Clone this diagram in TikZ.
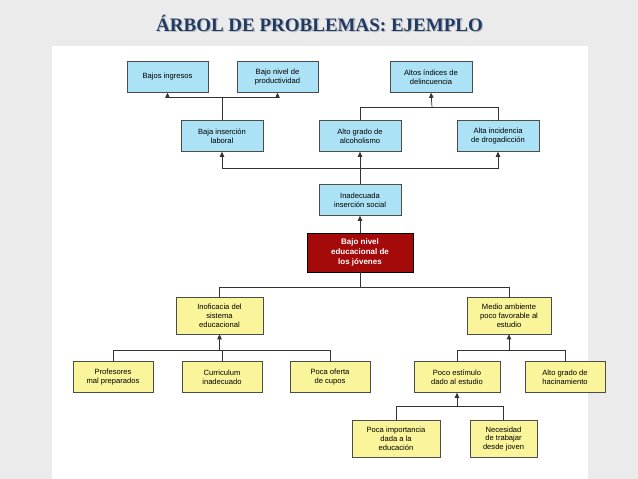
\documentclass[tikz,border=0pt]{standalone}
\usepackage{fontspec}
\setmainfont{Liberation Serif}
\newfontfamily\arial{Liberation Sans}
\usetikzlibrary{arrows.meta}
\definecolor{bl}{HTML}{ABE2F5}
\definecolor{yl}{HTML}{FAF59A}
\definecolor{rd}{HTML}{A50A0A}
\definecolor{tt}{HTML}{1F3A64}
\tikzset{
 bx/.style={draw=black!70,line width=0.6pt,font=\arial\fontsize{7.6}{9}\selectfont,align=center,inner sep=0pt,
   minimum height=#1},
 bx/.default=31,
 blue/.style={bx,fill=bl},
 yel/.style={bx=37,fill=yl,font=\arial\fontsize{7.6}{8.8}\selectfont},
 yel2/.style={bx=31,fill=yl},
 red/.style={bx=39,fill=rd,text=white,font=\arial\bfseries\fontsize{8}{9.6}\selectfont,draw=black,line width=0.8pt},
 ln/.style={line width=0.7pt,black!80},
 ar/.style={ln,-{Triangle[length=5pt,width=4.5pt]}},
}
\begin{document}
\begin{tikzpicture}[x=1pt,y=-1pt]
\useasboundingbox (0,0) rectangle (638,479);
\fill[black!8] (0,0) rectangle (638,479);
\fill[white] (52,46) rectangle (588,479);
\node[font=\bfseries\fontsize{19}{22}\selectfont,text=black!25] at (320.8,24.8) {ÁRBOL DE PROBLEMAS: EJEMPLO};
\node[font=\bfseries\fontsize{19}{22}\selectfont,text=tt] (title) at (319.5,23.5) {ÁRBOL DE PROBLEMAS: EJEMPLO};
% nodes
\node[blue,minimum width=81] (bi) at (167.5,77) {Bajos ingresos};
\node[blue,minimum width=81] (bp) at (277.5,77) {Bajo nivel de\\productividad};
\node[blue,minimum width=82] (ai) at (431,77) {Altos índices de\\delincuencia};
\node[blue,minimum width=82] (bl) at (222,136) {Baja inserción\\laboral};
\node[blue,minimum width=82] (ag) at (360,136) {Alto grado de\\alcoholismo};
\node[blue,minimum width=82] (ad) at (498,136) {Alta incidencia\\de drogadicción};
\node[blue,minimum width=82] (is) at (360,200) {Inadecuada\\inserción social};
\node[red,minimum width=106] (bn) at (360,252.5) {Bajo nivel\\educacional de\\los jóvenes};
\node[yel,minimum width=87] (ie) at (219.5,315.5) {Inoficacia del\\sistema\\educacional};
\node[yel,minimum width=84] (ma) at (509,315.5) {Medio ambiente\\poco favorable al\\estudio};
\node[yel2,minimum width=80] (pm) at (113,377) {Profesores\\mal preparados};
\node[yel2,minimum width=80] (ci) at (222,377) {Curriculum\\inadecuado};
\node[yel2,minimum width=80] (po) at (330,377) {Poca oferta\\de cupos};
\node[yel2,minimum width=86] (pe) at (457,377) {Poco estímulo\\dado al estudio};
\node[yel2,minimum width=80] (ah) at (565,377) {Alto grado de\\hacinamiento};
\node[yel,minimum width=88] (pi) at (396,439) {Poca importancia\\dada a la\\educación};
\node[yel,minimum width=67] (nt) at (503.5,439) {Necesidad\\de trabajar\\desde joven};
% connectors
\coordinate (j1) at (222,97); \coordinate (j2) at (432,107); \coordinate (j3) at (360,168);
\coordinate (j4) at (360,287); \coordinate (j5) at (219.5,350); \coordinate (j6) at (509,350);
\coordinate (j7) at (457,406);
\draw[ln] (bl.north) -- (j1);
\draw[ar] (j1) -| (bi.south); \draw[ar] (j1) -| (bp.south);
\draw[ln] (ag.north) -- (ag.north|-j2) -- (ad.north|-j2) -- (ad.north);
\draw[ar] (j2) -- (ai.south);
\draw[ln] (is.north) -- (j3);
\draw[ar] (j3) -| (bl.south); \draw[ar] (j3) -| (ad.south); \draw[ar] (j3) -- (ag.south);
\draw[ar] (bn.north) -- (is.south);
\draw[ln] (bn.south) -- (j4);
\draw[ln] (ie.north) -- (ie.north|-j4) -- (ma.north|-j4) -- (ma.north);
\draw[ln] (pm.north) -- (pm.north|-j5) -- (po.north|-j5) -- (po.north);
\draw[ln] (ci.north) -- (ci.north|-j5);
\draw[ar] (j5) -- (ie.south);
\draw[ln] (pe.north) -- (pe.north|-j6) -- (ah.north|-j6) -- (ah.north);
\draw[ar] (j6) -- (ma.south);
\draw[ln] (pi.north) -- (pi.north|-j7) -- (nt.north|-j7) -- (nt.north);
\draw[ar] (j7) -- (pe.south);
\end{tikzpicture}
\end{document}
